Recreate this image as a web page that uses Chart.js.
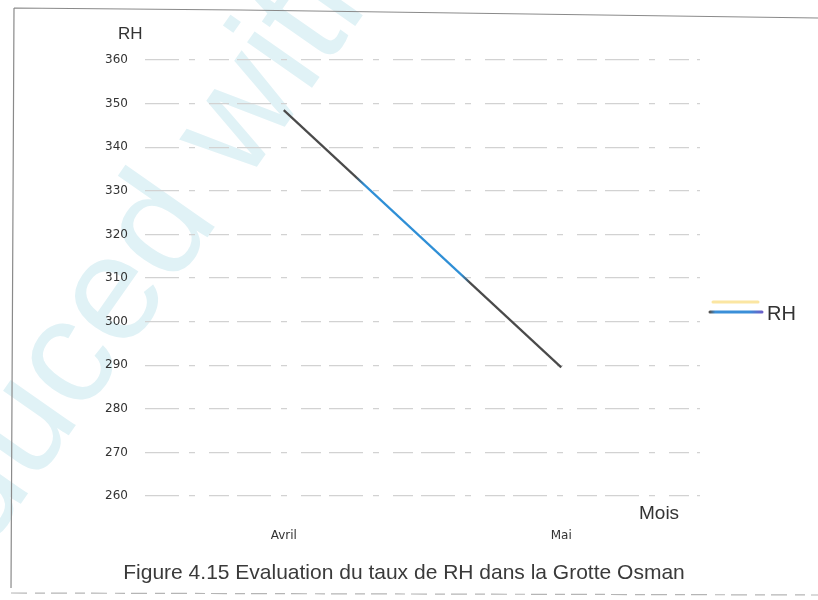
<!DOCTYPE html>
<html>
<head>
<meta charset="utf-8">
<title>RH - Grotte Osman</title>
<script src="https://cdn.jsdelivr.net/npm/chart.js@4.4.1/dist/chart.umd.min.js"></script>
<style>
  html,body{margin:0;padding:0;background:#fff;}
  #wrap{position:relative;width:818px;height:600px;}
</style>
</head>
<body>
<div id="wrap"><canvas id="rh" width="818" height="600"></canvas></div>
<script>
// data
const months = ['Avril', 'Mai'];
const rhValues = [348.5, 289.5];
const yTicks = [260, 270, 280, 290, 300, 310, 320, 330, 340, 350, 360];
const seriesName = 'RH';
const caption = 'Figure 4.15 Evaluation du taux de RH dans la Grotte Osman';

const FONT = '"Liberation Sans", Arial, sans-serif';
const TICKFONT = '"DejaVu Sans", sans-serif';

// line colour: grey at both ends, blue in the middle stretch
function lineColor(ctx){
  const chart = ctx.chart, area = chart.chartArea;
  if(!area) return '#555';
  const xs = chart.scales.x;
  const x0 = xs.getPixelForValue(0), x1 = xs.getPixelForValue(1);
  const g = chart.ctx.createLinearGradient(x0, 0, x1, 0);
  g.addColorStop(0, '#4a4a4a');
  g.addColorStop(0.26, '#4a4a4a');
  g.addColorStop(0.29, '#2f8fd6');
  g.addColorStop(0.64, '#2f8fd6');
  g.addColorStop(0.67, '#4a4a4a');
  g.addColorStop(1, '#4a4a4a');
  return g;
}

// frame, watermark, titles, custom legend, caption
const decor = {
  id: 'decor',
  beforeDraw(chart){
    const c = chart.ctx;
    c.save();
    c.fillStyle = '#fff';
    c.fillRect(0, 0, chart.width, chart.height);
    // faint diagonal watermark
    c.translate(-62, 622);
    c.rotate(-55 * Math.PI / 180);
    c.font = '150px ' + FONT;
    c.fillStyle = '#e0f2f6';
    c.textBaseline = 'alphabetic';
    c.fillText('oduced with', 0, 0);
    c.restore();

    c.save();
    c.strokeStyle = '#8a8a8a';
    c.lineWidth = 1.2;
    c.beginPath();
    c.moveTo(14, 8); c.lineTo(240, 10); c.lineTo(818, 18);
    c.moveTo(14, 8); c.lineTo(11, 588);
    c.stroke();
    c.strokeStyle = '#b5b5b5';
    c.setLineDash([16, 8, 10, 6]);
    c.beginPath();
    c.moveTo(11, 593); c.lineTo(818, 595);
    c.stroke();
    c.restore();
  },
  afterDraw(chart){
    const c = chart.ctx;
    c.save();
    c.fillStyle = '#333';
    c.textBaseline = 'middle';
    c.textAlign = 'left';
    c.font = '17px ' + FONT;
    c.fillText('RH', 118, 34);
    c.font = '19px ' + FONT;
    c.fillText('Mois', 639, 514);

    // legend
    c.lineCap = 'round';
    c.strokeStyle = '#fbe6a2';
    c.lineWidth = 3;
    c.beginPath(); c.moveTo(713, 302); c.lineTo(758, 302); c.stroke();
    const lg = c.createLinearGradient(710, 0, 762, 0);
    lg.addColorStop(0, '#555'); lg.addColorStop(0.1, '#3a8fd8');
    lg.addColorStop(0.75, '#3a8fd8'); lg.addColorStop(1, '#6a5fc8');
    c.strokeStyle = lg;
    c.beginPath(); c.moveTo(710, 312); c.lineTo(762, 312); c.stroke();
    c.fillStyle = '#333';
    c.font = '20px ' + FONT;
    c.fillText(seriesName, 767, 314);

    // caption
    c.textAlign = 'center';
    c.font = '21px ' + FONT;
    c.fillStyle = '#3a3a3a';
    c.fillText(caption, 404, 573);
    c.restore();
  }
};

new Chart(document.getElementById('rh'), {
  type: 'line',
  data: {
    labels: months,
    datasets: [{
      label: seriesName,
      data: rhValues,
      borderColor: lineColor,
      borderWidth: 2.2,
      pointRadius: 0,
      tension: 0
    }]
  },
  options: {
    responsive: false,
    animation: false,
    layout: { padding: { left: 0, right: 118, top: 60, bottom: 0 } },
    plugins: { legend: { display: false }, tooltip: { enabled: false } },
    scales: {
      x: {
        offset: true,
        afterFit(s){ s.height = 104; },
        grid: { display: false },
        border: { display: false },
        ticks: { color: '#333', padding: 25, font: { family: TICKFONT, size: 12 } }
      },
      y: {
        min: 260, max: 360,
        afterFit(s){ s.width = 145; },
        afterBuildTicks(s){ s.ticks = yTicks.map(v => ({ value: v })); },
        grid: { color: '#d2d2d2', lineWidth: 1.2, drawTicks: false, borderDash: [34, 10, 6, 14, 20, 8] },
        border: { display: false, dash: [34, 10, 6, 14, 20, 8] },
        ticks: { color: '#333', padding: 17, font: { family: TICKFONT, size: 12 } }
      }
    }
  },
  plugins: [decor]
});
</script>
</body>
</html>
